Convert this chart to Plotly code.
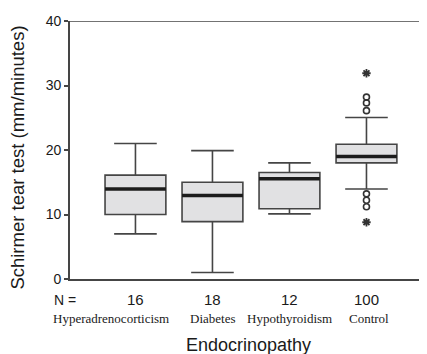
import plotly.graph_objects as go

categories = ["Hyperadrenocorticism", "Diabetes", "Hypothyroidism", "Control"]
n_counts = [16, 18, 12, 100]
lower_whisker = [7.0, 1.0, 10.1, 13.95]
q1 = [10.0, 8.9, 10.9, 18.0]
median = [13.95, 12.96, 15.55, 19.0]
q3 = [16.1, 15.0, 16.5, 20.9]
upper_whisker = [21.0, 19.9, 18.0, 25.05]
control_circle_outliers = [26.1, 27.3, 28.2, 11.2, 12.2, 13.2]
control_star_outliers = [31.9, 8.8]
y_ticks = [0, 10, 20, 30, 40]

positions = list(range(len(categories)))
BOX_W = 0.79
LINE = "#454545"
TXT = "#1a1a1a"

fig = go.Figure()
fig.add_trace(go.Box(
    x=positions, q1=q1, median=median, q3=q3,
    lowerfence=lower_whisker, upperfence=upper_whisker,
    width=BOX_W, whiskerwidth=0.7, boxpoints=False,
    fillcolor="#e1e1e3", line=dict(color=LINE, width=1.6),
    showlegend=False, hoverinfo="skip",
))

mx, my = [], []
for p, m in zip(positions, median):
    mx += [p - BOX_W / 2, p + BOX_W / 2, None]
    my += [m, m, None]
fig.add_trace(go.Scatter(x=mx, y=my, mode="lines",
                         line=dict(color="#1c1c1c", width=3.5),
                         showlegend=False, hoverinfo="skip"))

ci = categories.index("Control")
fig.add_trace(go.Scatter(
    x=[positions[ci]] * len(control_circle_outliers), y=control_circle_outliers,
    mode="markers",
    marker=dict(symbol="circle-open", size=6, color="#333333", line=dict(width=1.6)),
    showlegend=False, hoverinfo="skip"))
fig.add_trace(go.Scatter(
    x=[positions[ci]] * len(control_star_outliers), y=control_star_outliers,
    mode="markers",
    marker=dict(symbol="asterisk-open", size=7, color="#333333", line=dict(width=1.8, color="#333333")),
    showlegend=False, hoverinfo="skip"))

fig.add_shape(type="line", xref="paper", x0=0, x1=1, yref="y", y0=40, y1=40,
              line=dict(color=LINE, width=1.6))

sans = "Liberation Sans, Arial"
serif = "Liberation Serif, Times New Roman"
annotations = []
annotations.append(dict(text="N =", xref="paper", yref="paper", x=-0.014, y=-0.080,
                        xanchor="center", yanchor="middle",
                        showarrow=False, font=dict(family=sans, size=14, color=TXT)))
for p, n in zip(positions, n_counts):
    annotations.append(dict(text=str(n), xref="x", yref="paper", x=p, y=-0.080,
                            xanchor="center", yanchor="middle",
                            showarrow=False, font=dict(family=sans, size=15, color=TXT)))
label_shift = [-24, 0, 0, 3]
for p, c, s in zip(positions, categories, label_shift):
    annotations.append(dict(text=c, xref="x", yref="paper", x=p, y=-0.154, xshift=s,
                            xanchor="center", yanchor="middle",
                            showarrow=False, font=dict(family=serif, size=13, color=TXT)))
annotations.append(dict(text="Endocrinopathy", xref="paper", yref="paper", x=0.50, y=-0.254,
                        xanchor="center", yanchor="middle",
                        showarrow=False, font=dict(family=sans, size=18, color=TXT)))
annotations.append(dict(text="Schirmer tear test (mm/minutes)", xref="paper", yref="paper",
                        x=-0.146, y=0.47, textangle=-90, xanchor="center", yanchor="middle",
                        showarrow=False, font=dict(family=sans, size=18.5, color=TXT)))

fig.update_layout(
    width=419, height=346,
    margin=dict(l=62, r=0, t=13, b=75),
    paper_bgcolor="white", plot_bgcolor="white",
    annotations=annotations,
    xaxis=dict(range=[-0.85, 3.786], showline=True, linecolor=LINE, linewidth=1.6,
               showticklabels=False, ticks="", showgrid=False, zeroline=False),
    yaxis=dict(range=[0, 40], tickvals=y_ticks, ticks="outside", ticklen=4,
               tickcolor=LINE, tickwidth=1.6, showline=True, linecolor=LINE, linewidth=1.6,
               showgrid=False, zeroline=False,
               tickfont=dict(family=sans, size=14, color=TXT)),
)

fig.write_html("out.html")
